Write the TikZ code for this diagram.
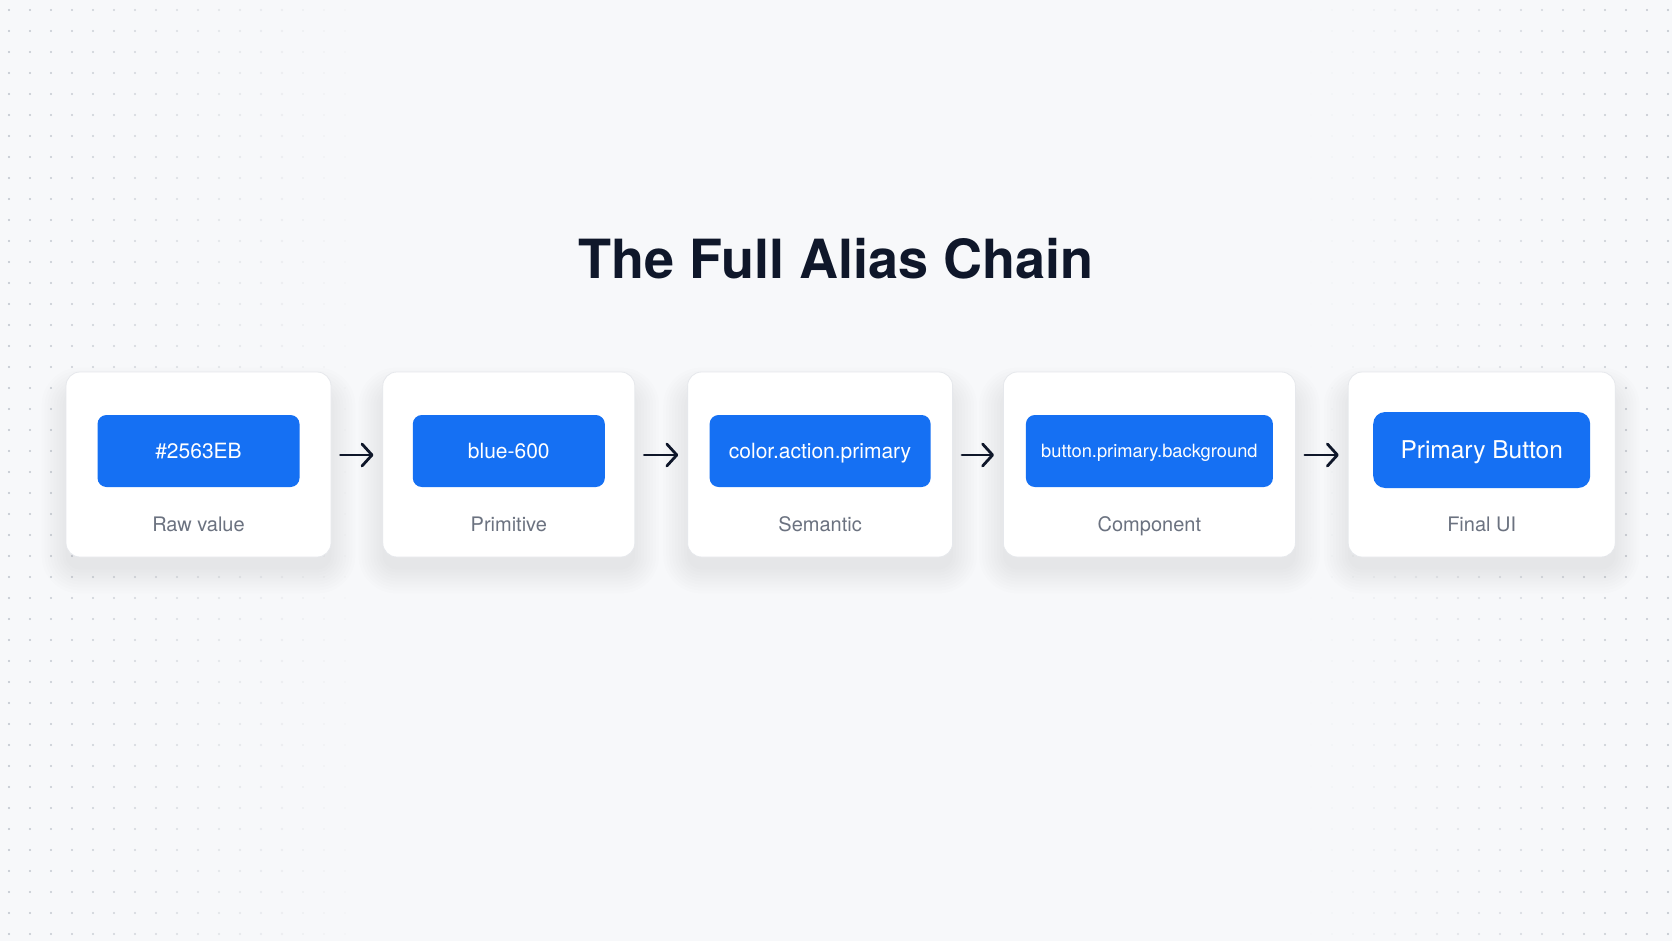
\documentclass[tikz,border=0pt]{standalone}
\usepackage{fontspec}
\setmainfont{TeX Gyre Heros}
\usepackage{tikz}
\usetikzlibrary{arrows.meta}
\usetikzlibrary{positioning}
\definecolor{pagebg}{HTML}{F7F8FA}
\definecolor{dotgray}{HTML}{9CA3AF}
\definecolor{chipblue}{HTML}{1570F3}
\definecolor{inkdark}{HTML}{0F172A}
\definecolor{labelgray}{HTML}{6B7280}
\definecolor{cardline}{HTML}{E6E8EC}
\pgfdeclarelayer{bg}
\pgfdeclarelayer{shade}
\pgfsetlayers{bg,shade,main}
\tikzset{
	x=1pt, y=-1pt,
	node distance=52pt,
	card/.style = {draw=cardline, line width=0.8pt, fill=white, rounded corners=14pt,
		minimum height=185pt, inner sep=0pt},
	chip/.style = {fill=chipblue, rounded corners=9pt, minimum height=72pt,
		inner sep=0pt, text=white, text height=15pt, text depth=0pt,
		font=\fontsize{21}{24}\selectfont},
	caption/.style = {text=labelgray, font=\fontsize{20}{24}\selectfont, inner sep=0pt,
		text height=14.4pt, text depth=0pt},
	flow/.style = {draw=inkdark, line width=2.8pt, line cap=round, shorten >=9pt, shorten <=9pt,
		-{Straight Barb[length=10pt,width=22pt,line width=2.8pt,round]}}
}

\begin{document}
\begin{tikzpicture}
	% page and dot grid
	\begin{pgfonlayer}{bg}
		\fill[pagebg] (0,0) rectangle (1672,941);
		\foreach \x [evaluate=\x as \op using {max(0,(abs(\x-836)-470)/340)*0.6}]
			in {9,30,...,408,1269,1290,...,1668}
			\foreach \y in {10,31,...,941}
				\fill[dotgray, opacity=\op] (\x,\y) circle (1.2pt);
	\end{pgfonlayer}

	\node[text=inkdark, font=\bfseries\fontsize{54}{58}\selectfont] (title) at (836,259) {The Full Alias Chain};

	\node[card, minimum width=265pt] (c1) at (198.5,464.5) {};
	\node[card, minimum width=252pt] (c2) [right=51pt of c1] {};
	\node[card, minimum width=265pt] (c3) [right=52pt of c2] {};
	\node[card, minimum width=292pt] (c4) [right=50pt of c3] {};
	\node[card, minimum width=267pt] (c5) [right=52pt of c4] {};

	\node[chip, minimum width=202pt] (b1) at ([yshift=13.5pt]c1.center) {\#2563EB};
	\node[chip, minimum width=192pt] (b2) at ([yshift=13.5pt]c2.center) {blue-600};
	\node[chip, minimum width=221pt] (b3) at ([yshift=13.5pt]c3.center) {color.action.primary};
	\node[chip, minimum width=247pt, text height=13.2pt, font=\fontsize{18.3}{22}\selectfont] (b4) at ([yshift=13.5pt]c4.center) {button.primary.background};
	\node[chip, minimum width=217pt, minimum height=76pt, rounded corners=12pt, text height=17.6pt,
		font=\fontsize{24.5}{28}\selectfont] (b5) at ([yshift=14.5pt]c5.center) {Primary Button};

	\node[caption] (l1) at ([yshift=-59.5pt]c1.center) {Raw value};
	\node[caption] (l2) at ([yshift=-59.5pt]c2.center) {Primitive};
	\node[caption] (l3) at ([yshift=-59.5pt]c3.center) {Semantic};
	\node[caption] (l4) at ([yshift=-59.5pt]c4.center) {Component};
	\node[caption] (l5) at ([yshift=-59.5pt]c5.center) {Final UI};

	% soft card shadows
	\begin{pgfonlayer}{shade}
		\foreach \c in {c1,c2,c3,c4,c5}
			\foreach \k in {0,3,...,24}
				\fill[black, opacity=0.007, rounded corners=14pt+\k pt]
					([shift={(-\k pt,-\k pt-12pt)}]\c.south west) rectangle ([shift={(\k pt,\k pt-20pt)}]\c.north east);
	\end{pgfonlayer}

	\draw[flow] ([yshift=9.5pt]c1.east) -- ([yshift=9.5pt]c2.west);
	\draw[flow] ([yshift=9.5pt]c2.east) -- ([yshift=9.5pt]c3.west);
	\draw[flow] ([yshift=9.5pt]c3.east) -- ([yshift=9.5pt]c4.west);
	\draw[flow] ([yshift=9.5pt]c4.east) -- ([yshift=9.5pt]c5.west);
\end{tikzpicture}
\end{document}
